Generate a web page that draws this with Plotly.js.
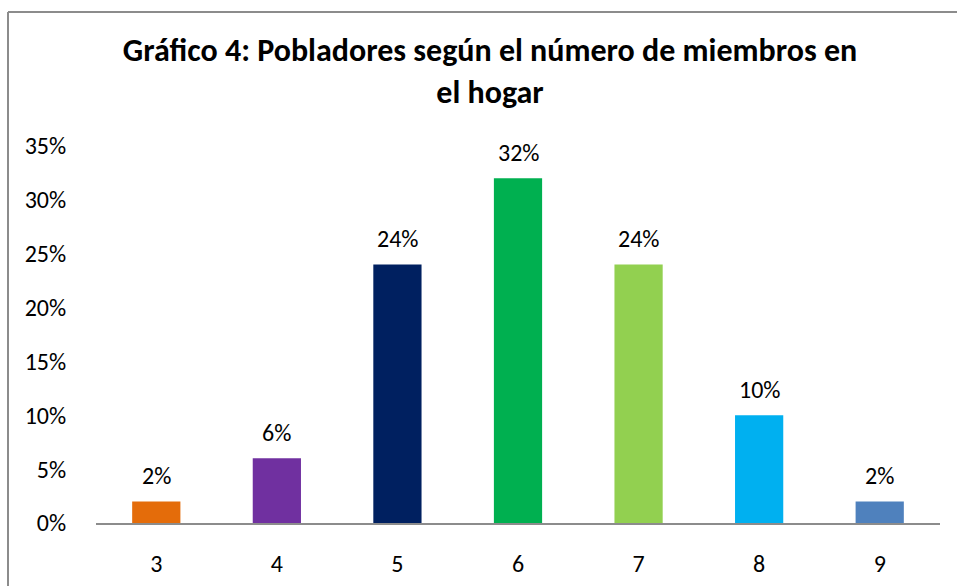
<!DOCTYPE html>
<html>
<head>
<meta charset="utf-8">
<script src="https://cdn.plot.ly/plotly-3.0.1.min.js"></script>
<style>html,body{margin:0;padding:0;background:#fff;}#chart{width:957px;height:586px;}</style>
</head>
<body>
<div id="chart"></div>
<script>
const categories = ['3', '4', '5', '6', '7', '8', '9'];
const values = [2, 6, 24, 32, 24, 10, 2];
const barColors = ['#E46C0A', '#7030A0', '#002060', '#00B050', '#92D050', '#00B0F0', '#4F81BD'];
const yTickVals = [0, 5, 10, 15, 20, 25, 30, 35];
const yTickText = yTickVals.map(v => v + '%');
const titleText = 'Gráfico 4: Pobladores según el número de miembros en<br>el hogar';

const fontFam = 'Carlito, Calibri, "Liberation Sans", Arial, sans-serif';

const trace = {
  type: 'bar',
  x: categories,
  y: values,
  marker: {color: barColors},
  width: 0.4,
  hoverinfo: 'none'
};

const labelAnnotations = categories.map((c, i) => ({
  x: i,
  y: values[i],
  xref: 'x',
  yref: 'y',
  text: values[i] + '%',
  showarrow: false,
  yanchor: 'bottom',
  yshift: 9,
  font: {family: fontFam, size: 24, color: '#000'}
}));

const py = v => (523 - v) / 377;
const px = v => (v - 96) / 844;

const layout = {
  width: 957,
  height: 586,
  margin: {l: 96, r: 17, t: 146, b: 63},
  paper_bgcolor: '#fff',
  plot_bgcolor: 'rgba(0,0,0,0)',
  showlegend: false,
  bargap: 0.6,
  title: {
    text: titleText,
    font: {family: fontFam, size: 32, color: '#000', weight: 'bold'},
    x: 490 / 957,
    xanchor: 'center',
    xref: 'container',
    y: 1 - 61 / 586,
    yanchor: 'top',
    yref: 'container'
  },
  xaxis: {
    type: 'category',
    range: [-0.5, 6.5],
    showline: true,
    linecolor: '#8C8C8C',
    linewidth: 2,
    ticks: 'outside',
    ticklen: 18,
    tickcolor: 'rgba(0,0,0,0)',
    tickfont: {family: fontFam, size: 24, color: '#000'},
    showgrid: false,
    zeroline: false
  },
  yaxis: {
    range: [0, 35],
    tickvals: yTickVals,
    ticktext: yTickText,
    ticks: 'outside',
    ticklen: 24,
    tickcolor: 'rgba(0,0,0,0)',
    tickfont: {family: fontFam, size: 24, color: '#000'},
    showgrid: false,
    zeroline: false,
    showline: false
  },
  annotations: labelAnnotations,
  shapes: [
    {type: 'line', xref: 'paper', yref: 'paper', x0: px(8), x1: px(957), y0: py(12), y1: py(12),
     line: {color: '#8C8C8C', width: 2}, layer: 'above'},
    {type: 'line', xref: 'paper', yref: 'paper', x0: px(8), x1: px(8), y0: py(586), y1: py(12),
     line: {color: '#8C8C8C', width: 2}, layer: 'above'}
  ]
};

Plotly.newPlot('chart', [trace], layout, {staticPlot: true, displayModeBar: false});
</script>
</body>
</html>
